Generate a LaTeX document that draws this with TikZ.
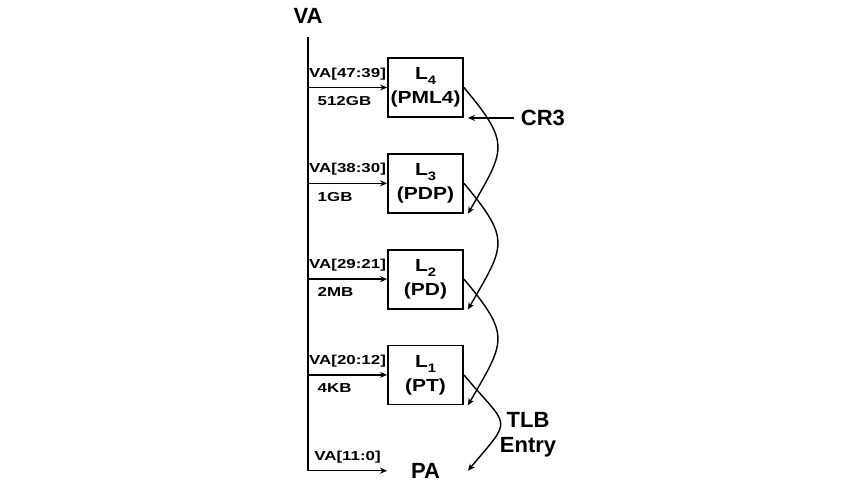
\documentclass[tikz,border=0pt]{standalone}
\usepackage{fontspec}
\setmainfont{Liberation Sans}
\usepackage{graphicx}
\usetikzlibrary{arrows.meta, positioning}
\newcommand{\bigfont}{\fontsize{11}{12.5}\selectfont\bfseries}
\newcommand{\boxfont}{\fontsize{8.75}{12}\selectfont\bfseries}
\newcommand{\bitfont}{\fontsize{6.5}{7.5}\selectfont\bfseries}
\newcommand{\wide}[1]{\scalebox{1.2}[1]{#1}}
\newcommand{\wider}[1]{\scalebox{1.3}[1]{#1}}
\newcommand{\lsub}[1]{\raisebox{-0.3em}{\scalebox{0.7}{#1}}}
\tikzstyle{tablebox} = [rectangle, draw, line width=0.9pt, minimum width=37.5pt, minimum height=29.5pt, inner sep=0pt, align=center, font=\boxfont]
\tikzstyle{pabox} = [tablebox, draw=none, font=\bigfont]
\tikzstyle{arrow} = [-{Stealth[length=3.5pt, width=3pt]}, line width=0.7pt]
\tikzstyle{walk} = [arrow, out=-50, in=60, looseness=1.5]
\tikzstyle{bits} = [font=\bitfont, inner sep=1pt]

\begin{document}
\begin{tikzpicture}[node distance=17.5pt]
  \useasboundingbox (0,0) rectangle (425pt,-244pt);
  \node[font=\bigfont] (va) at (154pt,-8pt) {VA};
  \coordinate[below=3pt of va] (top);

  \node[tablebox] (pml4) at (212.75pt,-43.75pt) {\wide{L\lsub{4}}\\\wide{(PML4)}};
  \node[tablebox, below=of pml4] (pdp) {\wide{L\lsub{3}}\\\wide{(PDP)}};
  \node[tablebox, below=of pdp] (pd) {\wide{L\lsub{2}}\\\wide{(PD)}};
  \node[tablebox, below=of pd] (pt) {\wide{L\lsub{1}}\\\wide{(PT)}};
  \node[pabox, below=of pt] (pa) {PA};

  \node[font=\bigfont, right=25pt of pml4.south east] (cr3) {CR3};
  \node[font=\bigfont, align=center] (tlb) at (264pt,-217.5pt) {TLB\\Entry};

  % index bits of the VA into each level
  \draw[arrow] (top) |- node[bits, pos=0.75, above=2.5pt] (b0) {\wider{VA[11:0]}} (pa.west);
  \draw[arrow] (top |- pml4.west) -- node[bits, above=2.5pt] (b4) {\wider{VA[47:39]}}
    node[bits, at start, below right=3pt and 3.5pt] (s4) {\wider{512GB}} (pml4.west);
  \draw[arrow] (top |- pdp.west) -- node[bits, above=2.5pt] (b3) {\wider{VA[38:30]}}
    node[bits, at start, below right=3pt and 3.5pt] (s3) {\wider{1GB}} (pdp.west);
  \draw[arrow] (top |- pd.west) -- node[bits, above=2.5pt] (b2) {\wider{VA[29:21]}}
    node[bits, at start, below right=3pt and 3.5pt] (s2) {\wider{2MB}} (pd.west);
  \draw[arrow] (top |- pt.west) -- node[bits, above=2.5pt] (b1) {\wider{VA[20:12]}}
    node[bits, at start, below right=3pt and 3.5pt] (s1) {\wider{4KB}} (pt.west);

  % table walk
  \draw[arrow] (cr3.west) -- ([xshift=2pt]pml4.south east);
  \draw[walk] (pml4.east) to ([xshift=2pt]pdp.south east);
  \draw[walk] (pdp.east) to ([xshift=2pt]pd.south east);
  \draw[walk] (pd.east) to ([xshift=2pt]pt.south east);
  \draw[walk, looseness=1.9, in=50] (pt.east) to ([xshift=2pt]pa.east);
\end{tikzpicture}
\end{document}
